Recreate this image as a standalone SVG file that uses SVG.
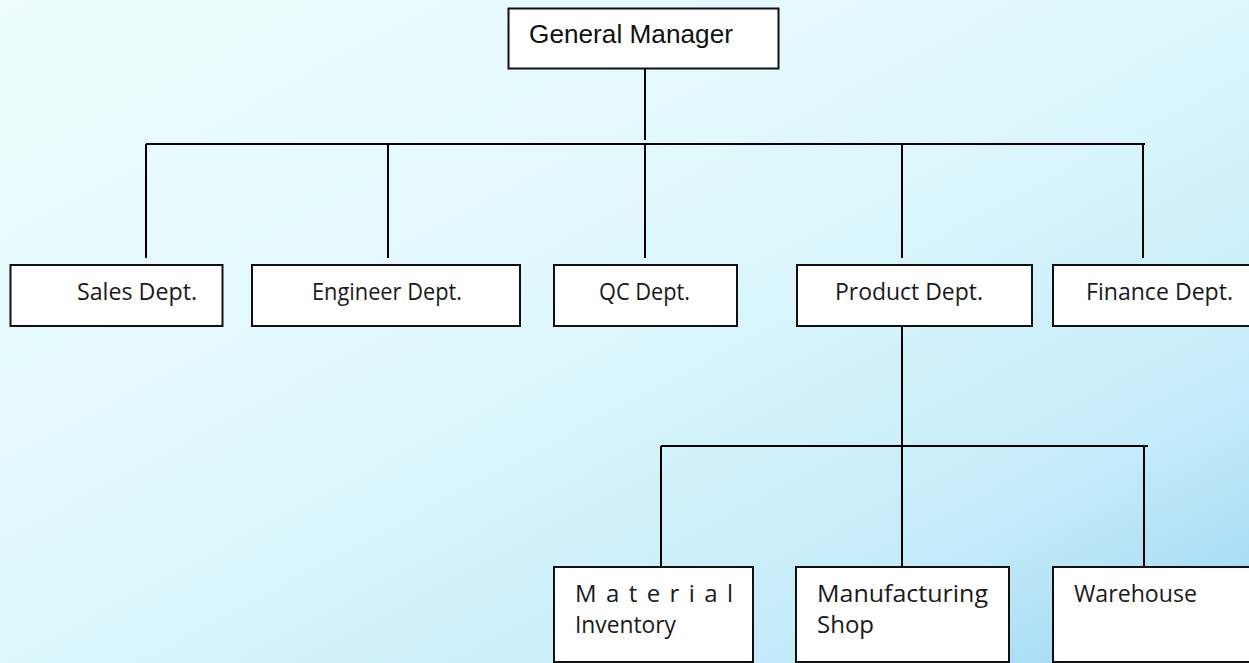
<svg xmlns="http://www.w3.org/2000/svg" width="1249" height="663" viewBox="0 0 1249 663">
<defs>
<linearGradient id="bg" x1="0" y1="0" x2="1" y2="1">
<stop offset="0" stop-color="#effdff"/>
<stop offset="0.5" stop-color="#ddf7fc"/>
<stop offset="0.8" stop-color="#c3ebf9"/>
<stop offset="1" stop-color="#9cd4f2"/>
</linearGradient>
</defs>
<style>
.box{fill:#ffffff;stroke:#111111;stroke-width:2}
.ln{stroke:#000000;stroke-width:2;fill:none}
.t{font-family:"Open Sans","Noto Sans",sans-serif;font-size:24px;fill:#1a1a1a}
.gm{font-family:"Liberation Sans",Arial,sans-serif;font-size:26px;fill:#111111}
</style>
<rect x="0" y="0" width="1249" height="663" fill="url(#bg)"/>
<g id="connectors">
<path class="ln" d="M645 68V140"/>
<path class="ln" d="M146 144H1145"/>
<path class="ln" d="M146 144V258M388 144V258M645 144V258M902 144V258M1143 144V258"/>
<path class="ln" d="M902 326V567"/>
<path class="ln" d="M661 446H1148"/>
<path class="ln" d="M661 446V567M1144 446V567"/>
</g>
<g id="general-manager">
<rect class="box" x="508.5" y="8.5" width="270" height="60"/>
<text class="gm" x="529" y="43" textLength="204" lengthAdjust="spacingAndGlyphs">General Manager</text>
</g>
<g id="sales-dept">
<rect class="box" x="10.5" y="265" width="212" height="61"/>
<text class="t" x="77" y="300" textLength="120" lengthAdjust="spacingAndGlyphs">Sales Dept.</text>
</g>
<g id="engineer-dept">
<rect class="box" x="252" y="265" width="268" height="61"/>
<text class="t" x="312" y="300" textLength="150" lengthAdjust="spacingAndGlyphs">Engineer Dept.</text>
</g>
<g id="qc-dept">
<rect class="box" x="554" y="265" width="183" height="61"/>
<text class="t" x="599" y="300" textLength="91" lengthAdjust="spacingAndGlyphs">QC Dept.</text>
</g>
<g id="product-dept">
<rect class="box" x="797" y="265" width="235" height="61"/>
<text class="t" x="835" y="300" textLength="148" lengthAdjust="spacingAndGlyphs">Product Dept.</text>
</g>
<g id="finance-dept">
<rect class="box" x="1053" y="265" width="210" height="61"/>
<text class="t" x="1086" y="300" textLength="147" lengthAdjust="spacingAndGlyphs">Finance Dept.</text>
</g>
<g id="material-inventory">
<rect class="box" x="554" y="567" width="199" height="95"/>
<text class="t" x="575" y="602" textLength="158" lengthAdjust="spacing">Material</text>
<text class="t" x="575" y="633" textLength="101" lengthAdjust="spacingAndGlyphs">Inventory</text>
</g>
<g id="manufacturing-shop">
<rect class="box" x="796" y="567" width="213" height="95"/>
<text class="t" x="817" y="602" textLength="171" lengthAdjust="spacingAndGlyphs">Manufacturing</text>
<text class="t" x="817" y="633">Shop</text>
</g>
<g id="warehouse">
<rect class="box" x="1053" y="567" width="210" height="95"/>
<text class="t" x="1074" y="602" textLength="123" lengthAdjust="spacingAndGlyphs">Warehouse</text>
</g>
</svg>
